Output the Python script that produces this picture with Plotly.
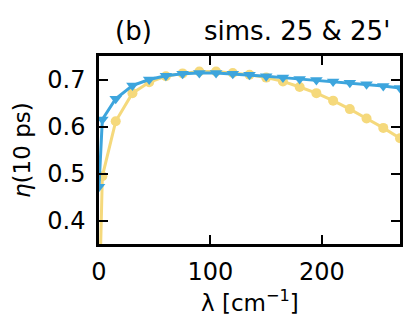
import plotly.graph_objects as go

lam = [0, 3, 15, 30, 45, 60, 75, 90, 105, 120, 135, 150, 165, 180, 195, 210, 225, 240, 255, 270]
eta_25 = [0.472, 0.615, 0.659, 0.687, 0.700, 0.708, 0.712, 0.714, 0.714, 0.712, 0.710, 0.707,
          0.704, 0.701, 0.699, 0.696, 0.693, 0.690, 0.686, 0.682]
eta_25p = [0.20, 0.494, 0.611, 0.671, 0.694, 0.707, 0.713, 0.717, 0.717, 0.714, 0.710, 0.704,
           0.696, 0.684, 0.671, 0.655, 0.637, 0.617, 0.597, 0.575]
x_ticks = [0, 100, 200]
y_ticks = [0.4, 0.5, 0.6, 0.7]

yellow = "#F5D97C"
blue = "#3DA5DD"

fig = go.Figure()
fig.add_trace(go.Scatter(x=lam, y=eta_25p, mode="lines+markers",
                         line=dict(color=yellow, width=3),
                         marker=dict(symbol="circle", size=10, color=yellow),
                         cliponaxis=True, showlegend=False))
fig.add_trace(go.Scatter(x=lam, y=eta_25, mode="lines+markers",
                         line=dict(color=blue, width=3),
                         marker=dict(symbol="triangle-down", size=11, color=blue),
                         cliponaxis=True, showlegend=False))

tick_font = dict(family="DejaVu Sans", size=24, color="black")
label_font = dict(family="DejaVu Sans", size=23, color="black")
title_font = dict(family="DejaVu Sans", size=26, color="black")

fig.update_layout(
    width=403, height=321,
    margin=dict(l=99, r=3, t=56, b=77),
    paper_bgcolor="white", plot_bgcolor="white",
    font=tick_font,
    annotations=[
        dict(text="(b)", x=0.045, y=1.0, xref="paper", yref="paper", xanchor="left", yanchor="middle",
             yshift=25, showarrow=False, font=title_font),
        dict(text="sims. 25 &amp; 25'", x=0.343, y=1.0, xref="paper", yref="paper", xanchor="left",
             yanchor="middle", yshift=25, showarrow=False, font=title_font),
        dict(text="λ [cm<sup>−1</sup>]", x=0.5, y=0, xref="paper", yref="paper", xanchor="center",
             yanchor="middle", yshift=-57, showarrow=False, font=label_font),
        dict(text="<i>η</i>(10 ps)", x=0, y=0.5, xref="paper", yref="paper", xanchor="center",
             yanchor="middle", xshift=-77, textangle=-90, showarrow=False, font=label_font),
    ],
)
fig.update_xaxes(range=[0, 270], tickvals=x_ticks, ticks="inside", ticklen=9, tickwidth=1.5,
                 tickcolor="black", showline=True, linecolor="black", linewidth=2.5, mirror="ticks",
                 showgrid=False, zeroline=False, automargin=False, ticklabelstandoff=4,
                 tickfont=tick_font)
fig.update_yaxes(range=[0.35, 0.75], tickvals=y_ticks, ticks="inside", ticklen=9,
                 tickwidth=1.5, tickcolor="black", showline=True, linecolor="black", linewidth=2.5,
                 mirror="ticks", showgrid=False, zeroline=False, automargin=False,
                 ticklabelstandoff=6, tickfont=tick_font)

fig.write_html("out.html", config={"displayModeBar": False},
               post_script="document.body.style.margin='0';document.body.style.padding='0';")
